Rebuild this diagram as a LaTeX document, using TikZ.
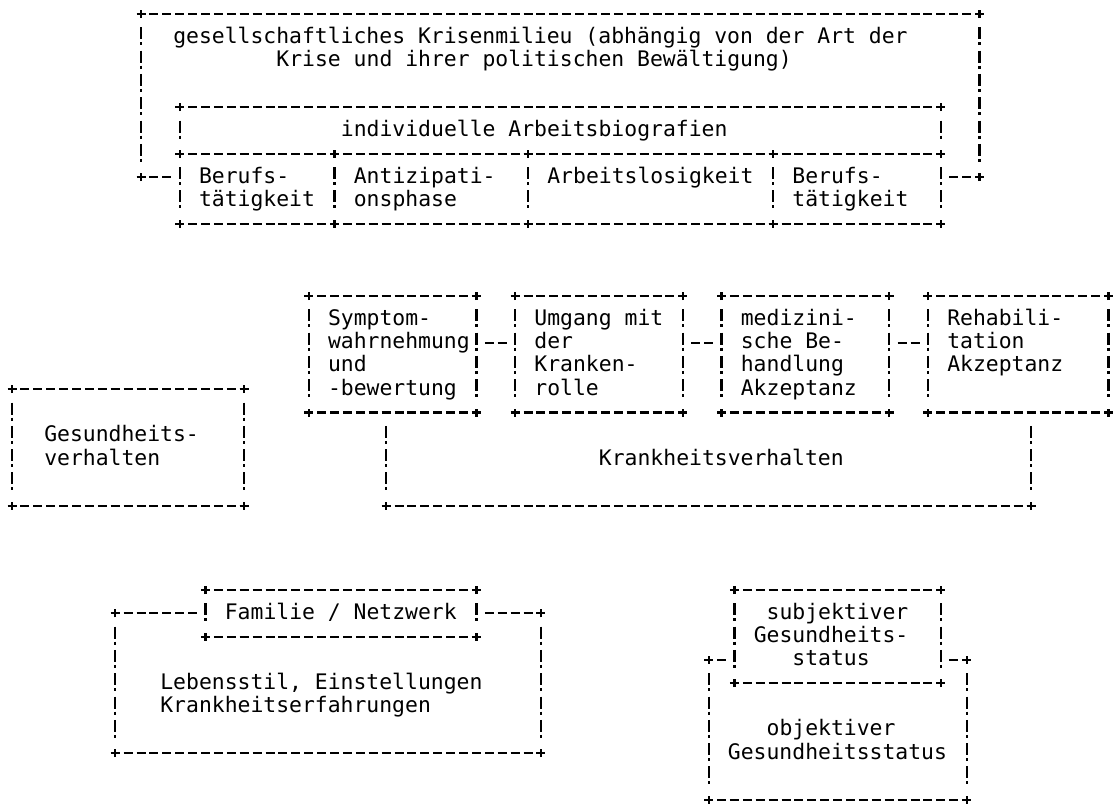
\documentclass[tikz,border=0pt]{standalone}
\usepackage{fontspec}
\newfontfamily\monofnt{DejaVu Sans Mono}
\newcommand\asbox[5]{%
  \coordinate (#1-nw) at (#2,#3); \coordinate (#1-ne) at (#4,#3);
  \coordinate (#1-sw) at (#2,#5); \coordinate (#1-se) at (#4,#5);
  \draw[hline] (#1-nw) -- (#1-ne);
  \draw[hline] (#1-sw) -- (#1-se);
  \draw[vline] (#1-nw) -- (#1-sw);
  \draw[vline] (#1-ne) -- (#1-se);
  \foreach \p in {nw,ne,sw,se} \pic at (#1-\p) {pl};}
\begin{document}
\begin{tikzpicture}[x=1pt,y=-1pt,
  hline/.style={line width=2.2pt, dash pattern=on 9pt off 3.9pt, dash phase=4.5pt},
  hconn/.style={line width=2.2pt, dash pattern=on 9pt off 3.9pt, shorten <=8.4pt, shorten >=8.4pt},
  vline/.style={line width=2.2pt, dash pattern=on 12pt off 3pt on 3pt off 5.3pt, dash phase=19pt, shorten <=9pt, shorten >=11pt},
  pl/.pic={\draw[line width=2.2pt] (-4.5pt,0)--(4.5pt,0) (0,-4pt)--(0,4pt);},
  tx/.style={anchor=base west, inner sep=0pt, outer sep=0pt, yshift=-6pt, font=\monofnt\fontsize{21.4pt}{24pt}\selectfont}]
\fill[white] (0,0) rectangle (1114,809);
\useasboundingbox (0,0) rectangle (1114,809);

% ---------- top section ----------
\begin{scope}[shift={(12pt,-14pt)},x=12.9pt,y=-23.3pt]
  \coordinate (kr-nw) at (10,0); \coordinate (kr-ne) at (75,0);
  \coordinate (kr-sw) at (10,7); \coordinate (kr-se) at (75,7);
  \draw[hline] (kr-nw) -- (kr-ne);
  \draw[vline] (kr-nw) -- (kr-sw);
  \draw[vline] (kr-ne) -- (kr-se);
  \foreach \p in {nw,ne,sw,se} \pic at (kr-\p) {pl};
  \asbox{bio}{13}{4}{72}{6}
  \coordinate (ph-a6) at (25,6); \coordinate (ph-b6) at (40,6); \coordinate (ph-c6) at (59,6);
  \coordinate (ph-a9) at (25,9); \coordinate (ph-b9) at (40,9); \coordinate (ph-c9) at (59,9);
  \coordinate (ph-sw) at (13,9); \coordinate (ph-se) at (72,9);
  \coordinate (ph-l7) at (13,7); \coordinate (ph-r7) at (72,7);
  \draw[hline] (ph-sw) -- (ph-se);
  \draw[vline] (bio-sw) -- (ph-sw);
  \draw[vline] (bio-se) -- (ph-se);
  \draw[vline] (ph-a6) -- (ph-a9);
  \draw[vline] (ph-b6) -- (ph-b9);
  \draw[vline] (ph-c6) -- (ph-c9);
  \foreach \p in {a6,b6,c6,a9,b9,c9,sw,se} \pic at (ph-\p) {pl};
  \draw[hconn] (kr-sw) -- (ph-l7);
  \draw[hconn] (ph-r7) -- (kr-se);
  \node[tx] (t-kr1) at (12.5,1) {gesellschaftliches Krisenmilieu (abhängig von der Art der};
  \node[tx] (t-kr2) at (20.5,2) {Krise und ihrer politischen Bewältigung)};
  \node[tx] (t-bio) at (25.5,5) {individuelle Arbeitsbiografien};
  \node[tx] (t-b1a) at (14.5,7) {Berufs-};
  \node[tx] (t-b1b) at (14.5,8) {tätigkeit};
  \node[tx] (t-an1) at (26.5,7) {Antizipati-};
  \node[tx] (t-an2) at (26.5,8) {onsphase};
  \node[tx] (t-al) at (41.5,7) {Arbeitslosigkeit};
  \node[tx] (t-b2a) at (60.5,7) {Berufs-};
  \node[tx] (t-b2b) at (60.5,8) {tätigkeit};
\end{scope}

% ---------- middle section ----------
\begin{scope}[shift={(12pt,-296pt)},x=12.9pt,y=-23.3pt]
  \asbox{sym}{23}{0}{36}{5}
  \asbox{umg}{39}{0}{52}{5}
  \asbox{med}{55}{0}{68}{5}
  \asbox{reh}{71}{0}{85}{5}
  \coordinate (sym-r2) at (36,2); \coordinate (umg-l2) at (39,2);
  \coordinate (umg-r2) at (52,2); \coordinate (med-l2) at (55,2);
  \coordinate (med-r2) at (68,2); \coordinate (reh-l2) at (71,2);
  \draw[hconn] (sym-r2) -- (umg-l2);
  \draw[hconn] (umg-r2) -- (med-l2);
  \draw[hconn] (med-r2) -- (reh-l2);
  \coordinate (kv-nw) at (29,5); \coordinate (kv-ne) at (79,5);
  \coordinate (kv-sw) at (29,9); \coordinate (kv-se) at (79,9);
  \draw[vline] (kv-nw) -- (kv-sw);
  \draw[vline] (kv-ne) -- (kv-se);
  \draw[hline] (kv-sw) -- (kv-se);
  \pic at (kv-sw) {pl}; \pic at (kv-se) {pl};
  \asbox{gv}{0}{4}{18}{9}
  \node[tx] (t-s1) at (24.5,1) {Symptom-};
  \node[tx] (t-s2) at (24.5,2) {wahrnehmung};
  \node[tx] (t-s3) at (24.5,3) {und};
  \node[tx] (t-s4) at (24.5,4) {-bewertung};
  \node[tx] (t-u1) at (40.5,1) {Umgang mit};
  \node[tx] (t-u2) at (40.5,2) {der};
  \node[tx] (t-u3) at (40.5,3) {Kranken-};
  \node[tx] (t-u4) at (40.5,4) {rolle};
  \node[tx] (t-m1) at (56.5,1) {medizini-};
  \node[tx] (t-m2) at (56.5,2) {sche Be-};
  \node[tx] (t-m3) at (56.5,3) {handlung};
  \node[tx] (t-m4) at (56.5,4) {Akzeptanz};
  \node[tx] (t-r1) at (72.5,1) {Rehabili-};
  \node[tx] (t-r2) at (72.5,2) {tation};
  \node[tx] (t-r3) at (72.5,3) {Akzeptanz};
  \node[tx] (t-kv) at (45.5,7) {Krankheitsverhalten};
  \node[tx] (t-g1) at (2.5,6) {Gesundheits-};
  \node[tx] (t-g2) at (2.5,7) {verhalten};
\end{scope}

% ---------- bottom section ----------
\begin{scope}[shift={(12pt,-590pt)},x=12.9pt,y=-23.3pt]
  \asbox{fam}{15}{0}{36}{2}
  \coordinate (le-nw) at (8,1); \coordinate (le-ne) at (41,1);
  \coordinate (le-sw) at (8,7); \coordinate (le-se) at (41,7);
  \coordinate (fam-l1) at (15,1); \coordinate (fam-r1) at (36,1);
  \draw[hconn] (le-nw) -- (fam-l1);
  \draw[hconn] (fam-r1) -- (le-ne);
  \draw[vline] (le-nw) -- (le-sw);
  \draw[vline] (le-ne) -- (le-se);
  \draw[hline] (le-sw) -- (le-se);
  \foreach \p in {nw,ne,sw,se} \pic at (le-\p) {pl};
  \node[tx] (t-fam) at (16.5,1) {Familie / Netzwerk};
  \node[tx] (t-le1) at (11.5,4) {Lebensstil, Einstellungen};
  \node[tx] (t-le2) at (11.5,5) {Krankheitserfahrungen};
  \asbox{sub}{56}{0}{72}{4}
  \coordinate (ob-nw) at (54,3); \coordinate (ob-ne) at (74,3);
  \coordinate (ob-sw) at (54,9); \coordinate (ob-se) at (74,9);
  \coordinate (sub-l3) at (56,3); \coordinate (sub-r3) at (72,3);
  \draw[hconn] (ob-nw) -- (sub-l3);
  \draw[hconn] (sub-r3) -- (ob-ne);
  \draw[vline] (ob-nw) -- (ob-sw);
  \draw[vline] (ob-ne) -- (ob-se);
  \draw[hline] (ob-sw) -- (ob-se);
  \foreach \p in {nw,ne,sw,se} \pic at (ob-\p) {pl};
  \node[tx] (t-su1) at (58.5,1) {subjektiver};
  \node[tx] (t-su2) at (57.5,2) {Gesundheits-};
  \node[tx] (t-su3) at (60.5,3) {status};
  \node[tx] (t-ob1) at (58.5,6) {objektiver};
  \node[tx] (t-ob2) at (55.5,7) {Gesundheitsstatus};
\end{scope}
\end{tikzpicture}
\end{document}
